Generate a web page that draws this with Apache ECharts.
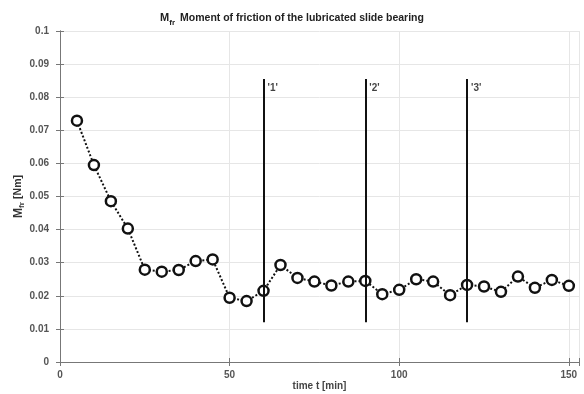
<!DOCTYPE html>
<html>
<head>
<meta charset="utf-8">
<script src="https://cdn.jsdelivr.net/npm/echarts@6/dist/echarts.min.js"></script>
<style>html,body{margin:0;padding:0;background:#fff;}#c{width:584px;height:394px;}</style>
</head>
<body>
<div id="c"></div>
<script>
const timeMin = [5,10,15,20,25,30,35,40,45,50,55,60,65,70,75,80,85,90,95,100,105,110,115,120,125,130,135,140,145,150];
const frictionMoment = [0.0729,0.0595,0.0486,0.0403,0.0279,0.0273,0.0278,0.0305,0.0310,0.0194,0.0184,0.0215,0.0293,0.0254,0.0243,0.0231,0.0243,0.0245,0.0205,0.0218,0.0250,0.0243,0.0202,0.0233,0.0228,0.0212,0.0258,0.0224,0.0248,0.0230];
const markerTimes = [60, 90, 120];
const markerLabels = ["'1'", "'2'", "'3'"];
const markerBottom = 0.012;
const markerTop = 0.0855;
const yTicks = [0,0.01,0.02,0.03,0.04,0.05,0.06,0.07,0.08,0.09,0.1];
const xTicks = [0,50,100,150];

const chart = echarts.init(document.getElementById('c'), null, {renderer:'canvas'});
const FF = 'Liberation Sans, Arial, sans-serif';
const axisFont = {fontFamily:FF, fontSize:10, fontWeight:'bold', color:'#555'};
const lineData = timeMin.map((t,i)=>[t, frictionMoment[i]]);
const markLines = markerTimes.map(t=>[{coord:[t, markerBottom]},{coord:[t, markerTop]}]);
const labelPts = markerTimes.map((t,i)=>({value:[t, 0.0826], name: markerLabels[i]}));

chart.setOption({
  animation:false,
  backgroundColor:'#fff',
  title:{
    text:'{m|M}{s|fr} {t|Moment of friction of the lubricated slide bearing}',
    left:'center', top:4,
    textStyle:{
      rich:{
        m:{fontFamily:FF, fontWeight:'bold', fontSize:11, color:'#222'},
        s:{fontFamily:FF, fontWeight:'bold', fontSize:8, color:'#222', verticalAlign:'bottom', padding:[7,0,0,0]},
        t:{fontFamily:FF, fontWeight:'bold', fontSize:10.5, color:'#222'}
      }
    }
  },
  grid:{left:60, right:5, top:31, bottom:32, show:false, containLabel:false, outerBoundsMode:'none'},
  xAxis:[{
    type:'value', min:0, max:153, interval:50,
    name:'time t [min]', nameLocation:'middle', nameGap:19, nameMoveOverlap:false,
    nameTextStyle:{fontFamily:FF, fontSize:10, fontWeight:'bold', color:'#444'},
    axisLine:{show:true, lineStyle:{color:'#777', width:1}},
    axisTick:{show:true, inside:true, length:4, lineStyle:{color:'#777'}},
    axisLabel:Object.assign({margin:8, formatter:v=>xTicks.indexOf(v)>=0?String(v):''}, axisFont),
    splitLine:{show:true, lineStyle:{color:'#e6e6e6', width:1}}
  },{
    type:'value', min:0, max:153, interval:50, position:'top',
    axisLine:{show:true, lineStyle:{color:'#777', width:1}},
    axisTick:{show:true, inside:true, length:4, lineStyle:{color:'#777'}},
    axisLabel:{show:false}, splitLine:{show:false}
  }],
  yAxis:[{
    type:'value', min:0, max:0.1, interval:0.01,
    name:'{m|M}{s|fr} {n|[Nm]}', nameLocation:'middle', nameGap:34, nameMoveOverlap:false,
    nameTextStyle:{
      rich:{
        m:{fontFamily:FF, fontSize:12, color:'#333', fontWeight:'bold'},
        s:{fontFamily:FF, fontSize:8, color:'#333', fontWeight:'bold', padding:[7,0,0,0]},
        n:{fontFamily:FF, fontSize:10.5, color:'#333', fontWeight:'bold'}
      }},
    axisLine:{show:true, lineStyle:{color:'#777', width:1}},
    axisTick:{show:true, inside:true, length:4, lineStyle:{color:'#777'}},
    axisLabel:Object.assign({margin:11, formatter:v=>{const r=Math.round(v*100)/100; return yTicks.indexOf(r)>=0?String(r):'';}}, axisFont),
    splitLine:{show:true, lineStyle:{color:'#e6e6e6', width:1}}
  },{
    type:'value', min:0, max:0.1, interval:0.01, position:'right',
    axisLine:{show:true, lineStyle:{color:'#777', width:1}},
    axisTick:{show:true, inside:true, length:4, lineStyle:{color:'#777'}},
    axisLabel:{show:false}, splitLine:{show:false}
  }],
  series:[{
    type:'line', data:lineData, xAxisIndex:0, yAxisIndex:0,
    symbol:'circle', symbolSize:10, showAllSymbol:true,
    lineStyle:{color:'#111', width:2, type:[2,2]},
    itemStyle:{color:'#fff', borderColor:'#111', borderWidth:2.5},
    z:3,
    markLine:{
      silent:true, symbol:['none','none'],
      lineStyle:{color:'#111', width:2, type:'solid'},
      label:{show:false},
      data:markLines
    }
  },{
    type:'scatter', data:labelPts, symbolSize:0, xAxisIndex:0, yAxisIndex:0,
    label:{show:true, position:'right', distance:4, formatter:p=>p.name,
      fontFamily:FF, fontWeight:'bold', fontSize:10, color:'#111'},
    z:4
  }]
});
</script>
</body>
</html>
